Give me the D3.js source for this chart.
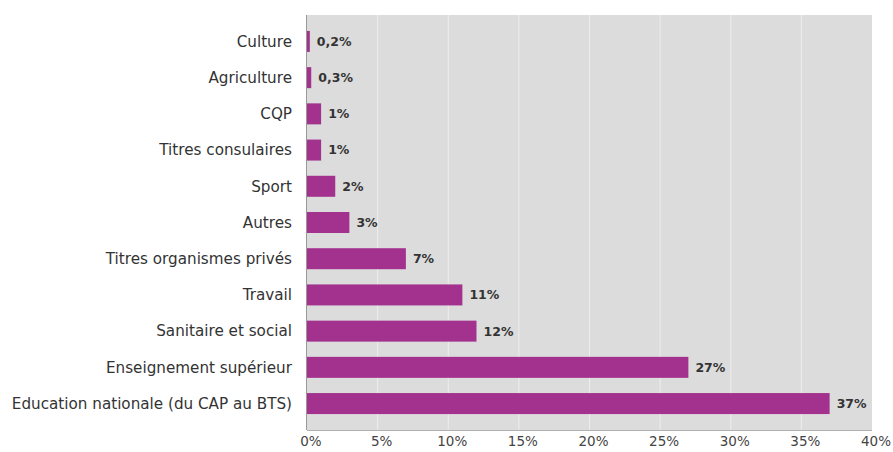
<!DOCTYPE html>
<html lang="fr">
<head>
<meta charset="utf-8">
<title>Répartition</title>
<style>
    body { margin: 0; background: #fff; }
    .cat text { font-family: "DejaVu Sans", Verdana, sans-serif; font-size: 15.2px; fill: #333; }
    .val { font-family: "DejaVu Sans", Verdana, sans-serif; font-size: 12.5px; font-weight: bold; fill: #333; }
    .xaxis text { font-family: "DejaVu Sans", Verdana, sans-serif; font-size: 13.5px; fill: #444; }
</style>
</head>
<body>
<svg id="chart" width="893" height="452"></svg>
<script src="https://d3js.org/d3.v7.min.js"></script>
<script>
    // données (de haut en bas)
    var categories = ['Culture', 'Agriculture', 'CQP', 'Titres consulaires', 'Sport', 'Autres',
        'Titres organismes privés', 'Travail', 'Sanitaire et social', 'Enseignement supérieur',
        'Education nationale (du CAP au BTS)'];
    var values = [0.2, 0.3, 1, 1, 2, 3, 7, 11, 12, 27, 37];
    var valueLabels = ['0,2%', '0,3%', '1%', '1%', '2%', '3%', '7%', '11%', '12%', '27%', '37%'];
    var ticks = [0, 5, 10, 15, 20, 25, 30, 35, 40];

    var svg = d3.select('#chart');
    var plot = {left: 307, right: 872, top: 15, bottom: 430};

    var x = d3.scaleLinear().domain([0, 40]).range([plot.left, plot.right]);
    var y = d3.scaleBand().domain(categories).range([plot.top, plot.bottom])
        .paddingInner(0.42).paddingOuter(0.44);

    // fond gris
    svg.append('rect')
        .attr('x', plot.left).attr('y', plot.top)
        .attr('width', plot.right - plot.left).attr('height', plot.bottom - plot.top)
        .attr('fill', '#dcdcdc');

    // grille
    svg.append('g').selectAll('line')
        .data(ticks.slice(1, -1))
        .enter().append('line')
        .attr('x1', function(d) { return x(d); })
        .attr('x2', function(d) { return x(d); })
        .attr('y1', plot.top).attr('y2', plot.bottom)
        .attr('stroke', '#ededed').attr('stroke-width', 1);

    // barres
    svg.append('g').selectAll('rect')
        .data(values)
        .enter().append('rect')
        .attr('x', x(0))
        .attr('y', function(d, i) { return y(categories[i]); })
        .attr('width', function(d) { return x(d) - x(0); })
        .attr('height', y.bandwidth())
        .attr('fill', '#a2328e');

    // étiquettes de valeur
    svg.append('g').selectAll('text')
        .data(values)
        .enter().append('text')
        .attr('class', 'val')
        .attr('x', function(d) { return x(d) + 7; })
        .attr('y', function(d, i) { return y(categories[i]) + y.bandwidth() / 2; })
        .attr('dy', '0.35em')
        .text(function(d, i) { return valueLabels[i]; });

    // axes
    svg.append('line')
        .attr('x1', plot.left - 0.5).attr('x2', plot.left - 0.5)
        .attr('y1', plot.top).attr('y2', plot.bottom)
        .attr('stroke', '#999');
    svg.append('line')
        .attr('x1', plot.left).attr('x2', plot.right)
        .attr('y1', plot.bottom + 0.5).attr('y2', plot.bottom + 0.5)
        .attr('stroke', '#b0b0b0');

    // catégories
    svg.append('g').attr('class', 'cat').selectAll('text')
        .data(categories)
        .enter().append('text')
        .attr('x', plot.left - 15)
        .attr('y', function(d) { return y(d) + y.bandwidth() / 2; })
        .attr('dy', '0.35em')
        .attr('text-anchor', 'end')
        .text(function(d) { return d; });

    // axe x
    svg.append('g').attr('class', 'xaxis').selectAll('text')
        .data(ticks)
        .enter().append('text')
        .attr('x', function(d) { return x(d) + 4; })
        .attr('y', plot.bottom + 16)
        .attr('text-anchor', 'middle')
        .text(function(d) { return d + '%'; });
</script>
</body>
</html>
